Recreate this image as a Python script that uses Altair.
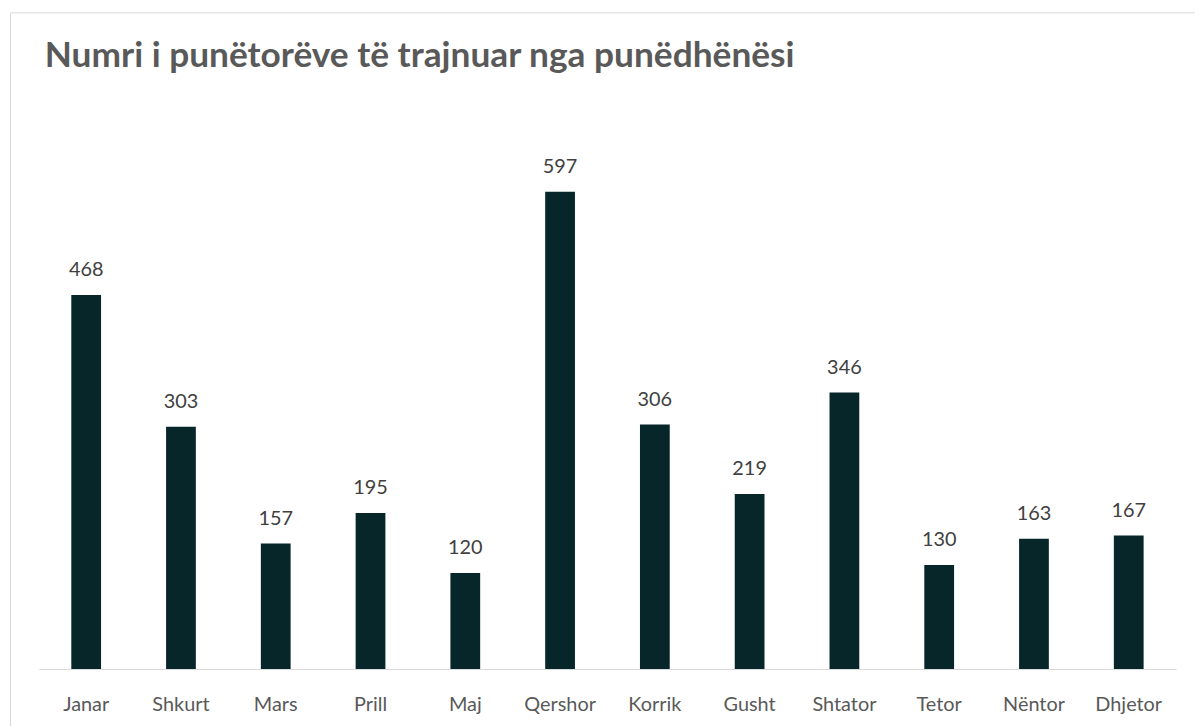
import altair as alt
import pandas as pd

months = ["Janar", "Shkurt", "Mars", "Prill", "Maj", "Qershor",
          "Korrik", "Gusht", "Shtator", "Tetor", "Nëntor", "Dhjetor"]
values = [468, 303, 157, 195, 120, 597, 306, 219, 346, 130, 163, 167]

title_text = "Numri i punëtorëve të trajnuar nga punëdhënësi"

df = pd.DataFrame({"month": months, "value": values})

x_enc = alt.X(
    "month:N",
    sort=months,
    scale=alt.Scale(paddingInner=0.686, paddingOuter=0.343),
    axis=alt.Axis(
        title=None, labelAngle=0, labelFont="Lato", labelFontSize=20,
        labelColor="#595959", labelPadding=26, ticks=False,
        domainColor="#d9d9d9", domainWidth=1,
    ),
)
y_enc = alt.Y("value:Q", scale=alt.Scale(domain=[0, 650]), axis=None)

base = alt.Chart(df).encode(x=x_enc, y=y_enc)

bars = base.mark_bar(color="#06262a")
labels = base.mark_text(
    dy=-19, baseline="alphabetic", font="Lato", fontSize=20, color="#404040"
).encode(text="value:Q")

frame_df = pd.DataFrame({"k": [0]})
frame_top = alt.Chart(frame_df).mark_rule(color="#d9d9d9", strokeWidth=1).encode(
    x=alt.value(-28.5), x2=alt.value(1300), y=alt.value(-137.5)
)
frame_left = alt.Chart(frame_df).mark_rule(color="#d9d9d9", strokeWidth=1).encode(
    x=alt.value(-28.5), y=alt.value(-137.5), y2=alt.value(800)
)

chart = alt.layer(frame_top, frame_left, bars, labels).properties(
    width=1145,
    height=523,
    autosize=alt.AutoSizeParams(type="none"),
    padding={"left": 31, "top": 140, "right": 19, "bottom": 55},
    title=alt.TitleParams(
        text=title_text, anchor="start", frame="group", dx=6,
        font="Lato", fontSize=35.5, fontWeight="bold", color="#595959",
        baseline="alphabetic", offset=-90,
    ),
).configure_view(stroke=None)

chart.save("out.html", embed_options={"renderer": "svg", "actions": False})
